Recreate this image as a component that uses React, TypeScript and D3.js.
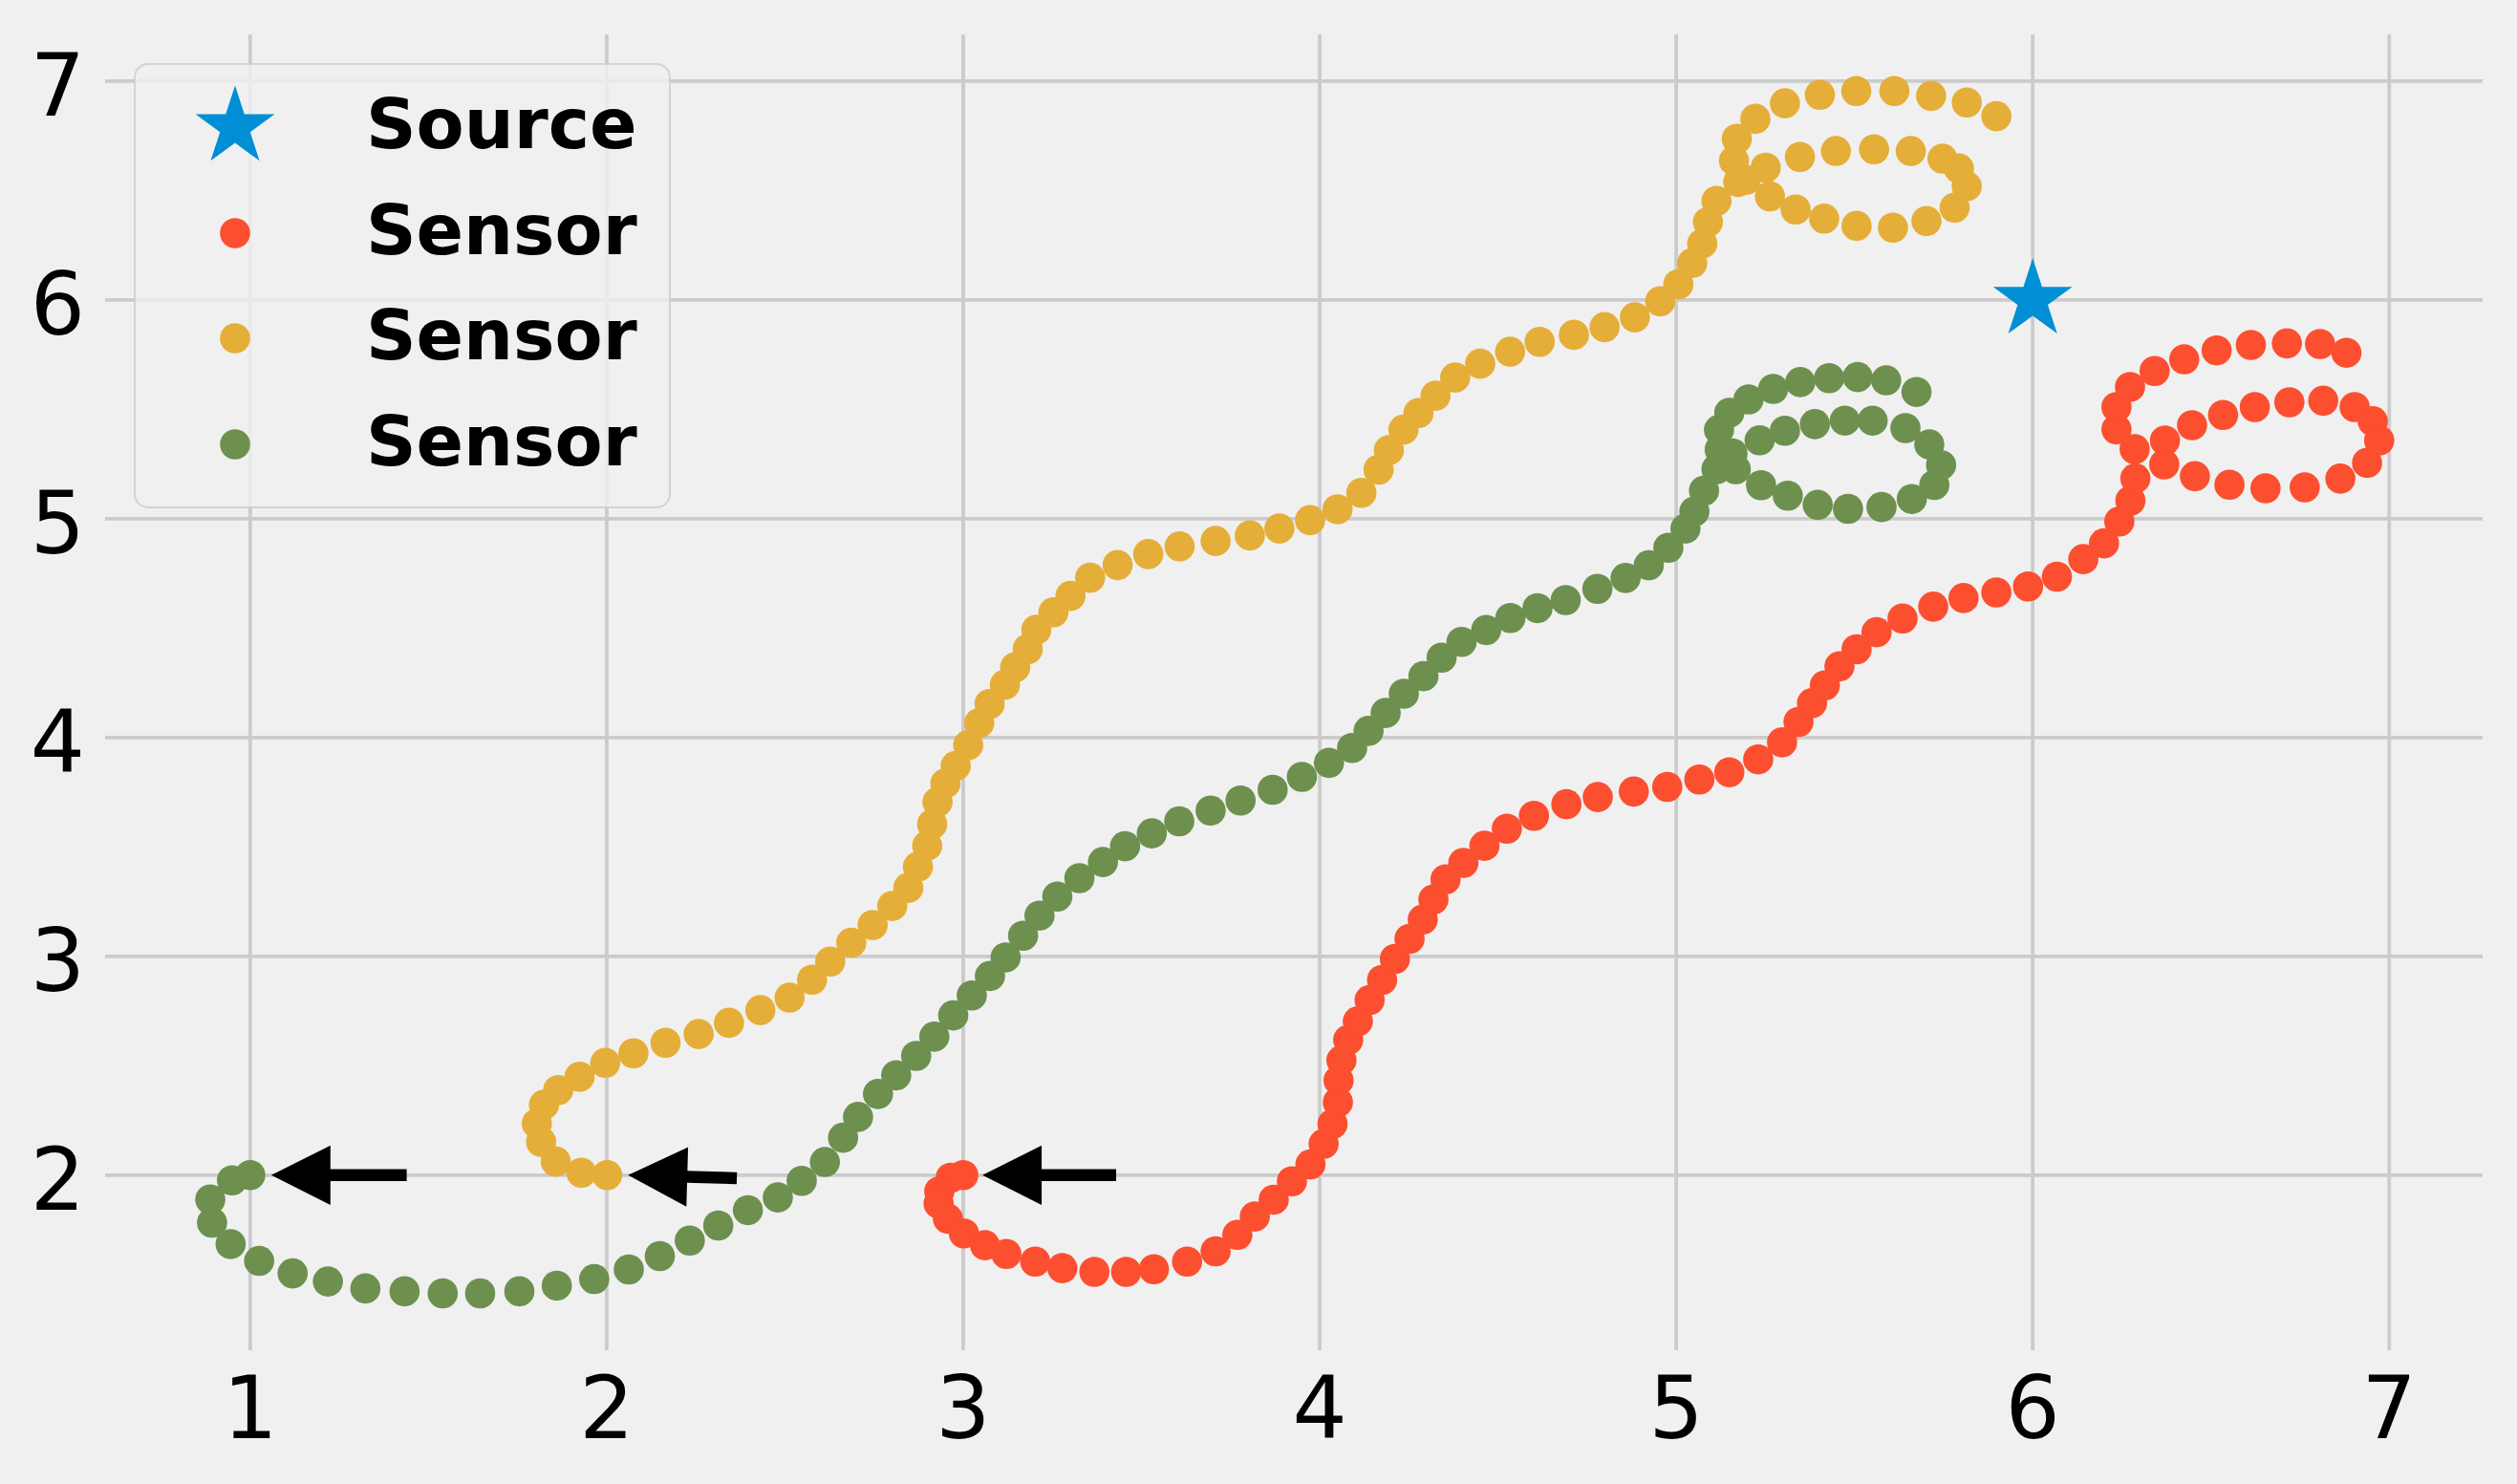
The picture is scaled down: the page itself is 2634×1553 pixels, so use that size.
import React from 'react';
import * as d3 from 'd3';

// source position
const source = [[6.0, 6.0]];

// sensor trajectories
const sensorRed = [
  [3.0, 2.0], [2.965, 1.988], [2.933, 1.926], [2.931, 1.87], [2.957, 1.801], [3.002, 1.734], [3.061, 1.68],
  [3.121, 1.64], [3.202, 1.605], [3.278, 1.575], [3.368, 1.558], [3.457, 1.558], [3.535, 1.57], [3.628, 1.605],
  [3.708, 1.652], [3.769, 1.727], [3.818, 1.811], [3.871, 1.888], [3.922, 1.972], [3.974, 2.049], [4.011, 2.143],
  [4.036, 2.234], [4.051, 2.333], [4.053, 2.433], [4.061, 2.525], [4.08, 2.618], [4.107, 2.703], [4.14, 2.8],
  [4.175, 2.892], [4.211, 2.988], [4.252, 3.08], [4.289, 3.168], [4.319, 3.26], [4.353, 3.351], [4.403, 3.427],
  [4.462, 3.505], [4.525, 3.583], [4.601, 3.642], [4.692, 3.695], [4.78, 3.728], [4.881, 3.753], [4.975, 3.774],
  [5.065, 3.808], [5.149, 3.841], [5.23, 3.9], [5.297, 3.978], [5.343, 4.071], [5.381, 4.157], [5.417, 4.238],
  [5.458, 4.325], [5.506, 4.403], [5.562, 4.481], [5.635, 4.544], [5.721, 4.598], [5.806, 4.637], [5.898, 4.663],
  [5.987, 4.69], [6.068, 4.735], [6.142, 4.815], [6.2, 4.887], [6.243, 4.987], [6.274, 5.082], [6.288, 5.184],
  [6.371, 5.357], [6.447, 5.427], [6.534, 5.474], [6.623, 5.51], [6.72, 5.532], [6.815, 5.539], [6.903, 5.51],
  [6.954, 5.445], [6.972, 5.357], [6.938, 5.255], [6.863, 5.183], [6.763, 5.143], [6.653, 5.139], [6.552, 5.155],
  [6.455, 5.194], [6.369, 5.248], [6.286, 5.318], [6.235, 5.408], [6.235, 5.51], [6.273, 5.602], [6.342, 5.675],
  [6.425, 5.728], [6.516, 5.769], [6.612, 5.794], [6.713, 5.801], [6.806, 5.798], [6.88, 5.758],
];

const sensorYellow = [
  [2.001, 2.0], [1.929, 2.011], [1.857, 2.062], [1.816, 2.152], [1.804, 2.236], [1.824, 2.322], [1.864, 2.389],
  [1.924, 2.45], [1.996, 2.513], [2.075, 2.557], [2.165, 2.605], [2.258, 2.645], [2.343, 2.696], [2.431, 2.754],
  [2.513, 2.811], [2.576, 2.893], [2.627, 2.976], [2.686, 3.062], [2.746, 3.143], [2.801, 3.23], [2.846, 3.313],
  [2.873, 3.409], [2.899, 3.505], [2.913, 3.604], [2.928, 3.705], [2.95, 3.79], [2.979, 3.87], [3.014, 3.965],
  [3.045, 4.066], [3.074, 4.153], [3.117, 4.241], [3.146, 4.321], [3.181, 4.404], [3.205, 4.492], [3.253, 4.572],
  [3.301, 4.647], [3.356, 4.73], [3.433, 4.788], [3.519, 4.838], [3.607, 4.873], [3.708, 4.898], [3.804, 4.923],
  [3.887, 4.955], [3.973, 4.993], [4.05, 5.043], [4.117, 5.118], [4.165, 5.224], [4.194, 5.313], [4.235, 5.407],
  [4.277, 5.482], [4.325, 5.562], [4.38, 5.645], [4.45, 5.708], [4.534, 5.763], [4.617, 5.808], [4.713, 5.84],
  [4.799, 5.875], [4.884, 5.92], [4.955, 5.993], [5.006, 6.071], [5.045, 6.168], [5.073, 6.257], [5.089, 6.356],
  [5.113, 6.452], [5.174, 6.539], [5.263, 6.473], [5.335, 6.413], [5.415, 6.371], [5.506, 6.338], [5.608, 6.33],
  [5.702, 6.36], [5.781, 6.421], [5.815, 6.519], [5.793, 6.6], [5.747, 6.645], [5.658, 6.68], [5.555, 6.688],
  [5.448, 6.68], [5.347, 6.653], [5.251, 6.604], [5.195, 6.548], [5.162, 6.636], [5.17, 6.736], [5.222, 6.827],
  [5.305, 6.898], [5.403, 6.937], [5.505, 6.954], [5.612, 6.954], [5.715, 6.932], [5.815, 6.902], [5.898, 6.839],
];

const sensorGreen = [
  [1.0, 2.0], [0.949, 1.976], [0.888, 1.889], [0.893, 1.783], [0.945, 1.685], [1.025, 1.608], [1.119, 1.551],
  [1.218, 1.514], [1.323, 1.482], [1.433, 1.469], [1.54, 1.46], [1.645, 1.46], [1.755, 1.469], [1.86, 1.495],
  [1.965, 1.525], [2.062, 1.569], [2.149, 1.63], [2.233, 1.701], [2.313, 1.77], [2.396, 1.84], [2.48, 1.898],
  [2.547, 1.974], [2.612, 2.06], [2.663, 2.171], [2.705, 2.266], [2.761, 2.371], [2.812, 2.456], [2.868, 2.545],
  [2.919, 2.633], [2.972, 2.73], [3.024, 2.821], [3.075, 2.91], [3.119, 2.995], [3.168, 3.094], [3.214, 3.186],
  [3.264, 3.273], [3.326, 3.357], [3.392, 3.431], [3.454, 3.503], [3.529, 3.562], [3.606, 3.617], [3.694, 3.666],
  [3.778, 3.712], [3.868, 3.761], [3.95, 3.82], [4.026, 3.884], [4.091, 3.952], [4.137, 4.03], [4.185, 4.112],
  [4.236, 4.2], [4.291, 4.28], [4.342, 4.365], [4.398, 4.437], [4.467, 4.491], [4.535, 4.546], [4.611, 4.591],
  [4.69, 4.628], [4.779, 4.679], [4.858, 4.729], [4.923, 4.787], [4.978, 4.867], [5.026, 4.955], [5.051, 5.033],
  [5.078, 5.128], [5.113, 5.226], [5.167, 5.226], [5.238, 5.153], [5.313, 5.105], [5.397, 5.063], [5.482, 5.045],
  [5.576, 5.053], [5.661, 5.09], [5.724, 5.154], [5.743, 5.245], [5.71, 5.339], [5.643, 5.414], [5.551, 5.448],
  [5.473, 5.448], [5.389, 5.432], [5.305, 5.402], [5.234, 5.358], [5.158, 5.298], [5.122, 5.316], [5.12, 5.406],
  [5.149, 5.484], [5.203, 5.545], [5.272, 5.593], [5.348, 5.624], [5.429, 5.642], [5.509, 5.647], [5.589, 5.632],
  [5.674, 5.579],
];

// heading arrows (tail -> tip)
const arrowTails = [[1.439, 2.0], [2.365, 1.986], [3.429, 2.0]];
const arrowTips = [[1.059, 2.0], [2.06, 2.0], [3.054, 2.0]];

const xTicks = [1, 2, 3, 4, 5, 6, 7];
const yTicks = [2, 3, 4, 5, 6, 7];

const legendLabels = ['Source', 'Sensor', 'Sensor', 'Sensor'];

const colors = {
  source: '#008fd5',
  red: '#fc4f30',
  yellow: '#e5ae38',
  green: '#6d904f',
};

const W = 2634;
const H = 1553;
const font = '"DejaVu Sans", sans-serif';

export default function App() {
  const x = d3.scaleLinear().domain([0.593, 7.262]).range([110, 2598]);
  const y = d3.scaleLinear().domain([1.2, 7.213]).range([1413, 36]);

  const dotR = 15.8;
  const star = d3.symbol().type(d3.symbolStar).size(2124)();

  const series = [
    { data: sensorRed, color: colors.red },
    { data: sensorYellow, color: colors.yellow },
    { data: sensorGreen, color: colors.green },
  ];

  // arrow polygons, sizes given in data units
  const headLen = x(0.166) - x(0);
  const headHalf = y(0) - y(0.136);
  const shaftHalf = y(0) - y(0.0275);
  const arrowPath = (tail, tip) => {
    const tx = x(tail[0]), ty = y(tail[1]);
    const px = x(tip[0]), py = y(tip[1]);
    const len = Math.hypot(px - tx, py - ty);
    const ux = (px - tx) / len, uy = (py - ty) / len;
    const nx = -uy, ny = ux;
    const bx = px - ux * headLen, by = py - uy * headLen;
    const pts = [
      [tx + nx * shaftHalf, ty + ny * shaftHalf],
      [bx + nx * shaftHalf, by + ny * shaftHalf],
      [bx + nx * headHalf, by + ny * headHalf],
      [px, py],
      [bx - nx * headHalf, by - ny * headHalf],
      [bx - nx * shaftHalf, by - ny * shaftHalf],
      [tx - nx * shaftHalf, ty - ny * shaftHalf],
    ];
    return d3.line()(pts) + 'Z';
  };

  const legendBase = [155, 266, 376, 487];
  const legendColors = [colors.source, colors.red, colors.yellow, colors.green];

  return (
    <svg width={W} height={H} style={{ position: 'absolute', left: 0, top: 0 }}>
      <rect x={0} y={0} width={W} height={H} fill="#f0f0f0" />

      {/* grid */}
      <g stroke="#cbcbcb" strokeWidth={3.8}>
        {xTicks.map((t) => (
          <line key={'gx' + t} x1={x(t)} x2={x(t)} y1={36} y2={1413} />
        ))}
        {yTicks.map((t) => (
          <line key={'gy' + t} x1={110} x2={2598} y1={y(t)} y2={y(t)} />
        ))}
      </g>

      {/* tick labels */}
      <g fontFamily={font} fontSize={90} fill="#000">
        {xTicks.map((t) => (
          <text key={'tx' + t} x={x(t)} y={1505} textAnchor="middle">
            {t}
          </text>
        ))}
        {yTicks.map((t) => (
          <text key={'ty' + t} x={89} y={y(t) + 36} textAnchor="end">
            {t}
          </text>
        ))}
      </g>

      {/* source */}
      {source.map((d, i) => (
        <path key={'s' + i} d={star} transform={`translate(${x(d[0])},${y(d[1])})`} fill={colors.source} />
      ))}

      {/* sensors */}
      {series.map((s, si) => (
        <g key={'ser' + si} fill={s.color}>
          {s.data.map((d, i) => (
            <circle key={i} cx={x(d[0])} cy={y(d[1])} r={dotR} />
          ))}
        </g>
      ))}

      {/* arrows */}
      {arrowTails.map((t, i) => (
        <path key={'a' + i} d={arrowPath(t, arrowTips[i])} fill="#000" />
      ))}

      {/* legend */}
      <rect x={141} y={67} width={560} height={464} rx={14} fill="#f0f0f0" fillOpacity={0.8}
        stroke="#cccccc" strokeOpacity={0.8} strokeWidth={2} />
      {legendLabels.map((label, i) => (
        <g key={'lg' + i}>
          {i === 0 ? (
            <path d={star} transform={`translate(246,${legendBase[i] - 22})`} fill={legendColors[i]} />
          ) : (
            <circle cx={246} cy={legendBase[i] - 22} r={dotR} fill={legendColors[i]} />
          )}
          <text x={383} y={legendBase[i]} fontFamily={font} fontWeight="bold" fontSize={73} fill="#000">
            {label}
          </text>
        </g>
      ))}
    </svg>
  );
}
